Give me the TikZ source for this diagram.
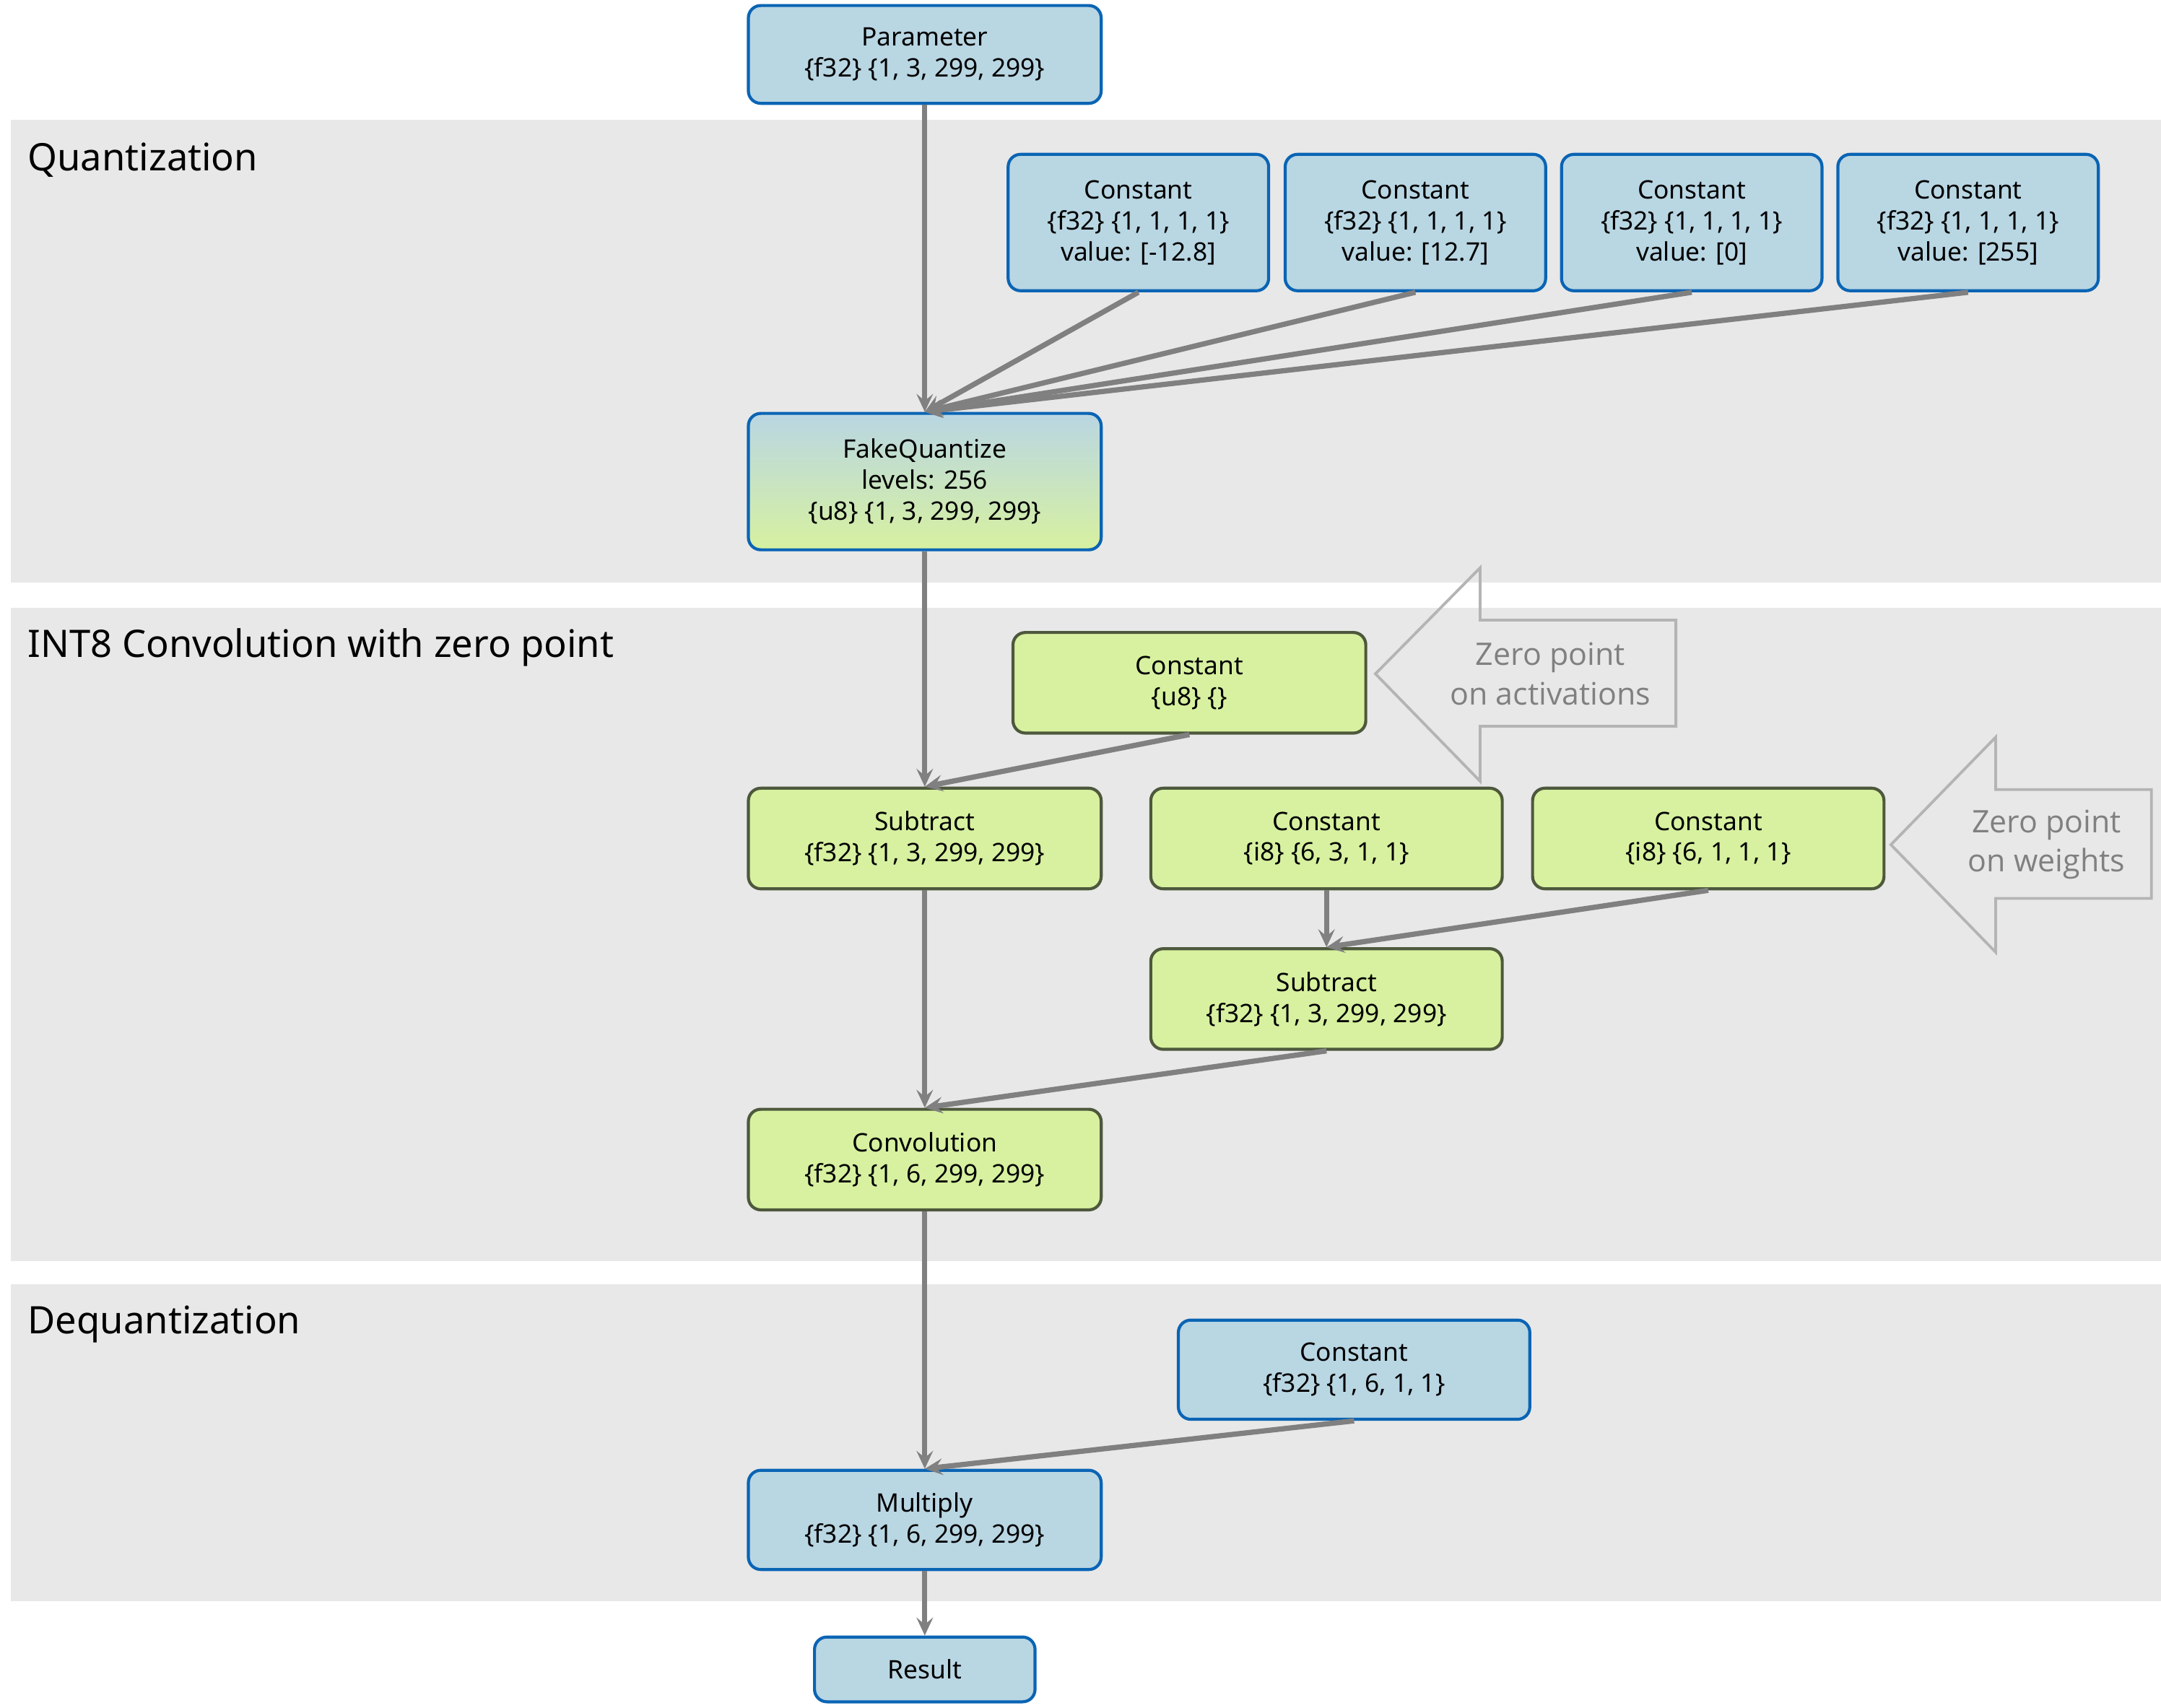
\documentclass[tikz,border=0pt]{standalone}
\usepackage{fontspec}
\setmainfont{Noto Sans}
\newfontfamily\calloutfont{Open Sans}
\usetikzlibrary{arrows.meta}
\definecolor{bandgrey}{RGB}{232,232,232}
\definecolor{bluefill}{RGB}{185,214,227}
\definecolor{blueline}{RGB}{10,100,180}
\definecolor{greenfill}{RGB}{215,241,160}
\definecolor{greenline}{RGB}{78,88,60}
\definecolor{wire}{RGB}{128,128,128}
\definecolor{callline}{RGB}{180,180,180}
\definecolor{calltext}{RGB}{128,128,128}
\tikzset{
  opbox/.style={rectangle, rounded corners=9pt, line width=2.2pt, align=center,
    inner sep=0pt, font=\fontsize{18.5}{22.5}\selectfont, text=black},
  bluebox/.style={opbox, fill=bluefill, draw=blueline},
  greenbox/.style={opbox, fill=greenfill, draw=greenline},
  gradbox/.style={opbox, top color=bluefill, bottom color=greenfill, middle color=bluefill!50!greenfill, draw=blueline},
  wide2/.style={minimum width=256pt, minimum height=73pt},
  wide3/.style={minimum width=256pt, minimum height=99pt},
  const3/.style={minimum width=189pt, minimum height=99pt},
  wire/.style={draw=wire, line width=3.8pt, -{Stealth[length=13pt,width=12pt,inset=5pt]}},
  band/.style={fill=bandgrey, draw=none},
  bandtitle/.style={anchor=west, font=\fontsize{27.5}{32}\selectfont, text=black, inner sep=0pt},
  callout/.style={draw=callline, line width=2pt, line join=miter},
  calltxt/.style={align=center, font=\calloutfont\fontsize{22.5}{28.5}\selectfont, text=calltext, inner sep=0pt}
}
\begin{document}
\begin{tikzpicture}[x=1pt,y=-1pt]
\useasboundingbox[fill=white] (0,0) rectangle (1568,1239);
% bands
\fill[band] (8,87) rectangle (1568,423);
\fill[band] (8,441) rectangle (1568,915);
\fill[band] (8,932) rectangle (1568,1162);
\node[bandtitle] (tq) at (20,116) {Quantization};
\node[bandtitle] (tc) at (20,470) {INT8 Convolution with zero point};
\node[bandtitle] (td) at (20,961) {Dequantization};
% callouts
\draw[callout] (998,489) -- (1074,412) -- (1074,450) -- (1216,450) -- (1216,527) -- (1074,527) -- (1074,567) -- cycle;
\node[calltxt] (za) at (1125,489) {Zero point\\on activations};
\draw[callout] (1372,613) -- (1448,535) -- (1448,573) -- (1561,573) -- (1561,652) -- (1448,652) -- (1448,691) -- cycle;
\node[calltxt] (zw) at (1485,613) {Zero point\\on weights};
% nodes
\node[bluebox, wide2, minimum height=71pt] (param) at (671,39.5) {Parameter\\\{f32\} \{1, 3, 299, 299\}};
\node[bluebox, const3] (c1) at (826,161.5) {Constant\\\{f32\} \{1, 1, 1, 1\}\\value: [-12.8]};
\node[bluebox, const3] (c2) at (1027,161.5) {Constant\\\{f32\} \{1, 1, 1, 1\}\\value: [12.7]};
\node[bluebox, const3] (c3) at (1227.5,161.5) {Constant\\\{f32\} \{1, 1, 1, 1\}\\value: [0]};
\node[bluebox, const3] (c4) at (1428,161.5) {Constant\\\{f32\} \{1, 1, 1, 1\}\\value: [255]};
\node[gradbox, wide3] (fq) at (671,349.5) {FakeQuantize\\levels: 256\\\{u8\} \{1, 3, 299, 299\}};
\node[greenbox, wide2] (cu8) at (863,495.5) {Constant\\\{u8\} \{\}};
\node[greenbox, wide2] (sub1) at (671,608.5) {Subtract\\\{f32\} \{1, 3, 299, 299\}};
\node[greenbox, wide2, minimum width=255pt] (ci8a) at (962.5,608.5) {Constant\\\{i8\} \{6, 3, 1, 1\}};
\node[greenbox, wide2, minimum width=255pt] (ci8b) at (1239.5,608.5) {Constant\\\{i8\} \{6, 1, 1, 1\}};
\node[greenbox, wide2, minimum width=255pt] (sub2) at (962.5,725) {Subtract\\\{f32\} \{1, 3, 299, 299\}};
\node[greenbox, wide2] (conv) at (671,841.5) {Convolution\\\{f32\} \{1, 6, 299, 299\}};
\node[bluebox, wide2, minimum width=255pt, minimum height=72pt] (cf32) at (982.5,994) {Constant\\\{f32\} \{1, 6, 1, 1\}};
\node[bluebox, wide2, minimum height=72pt] (mult) at (671,1103) {Multiply\\\{f32\} \{1, 6, 299, 299\}};
\node[bluebox, minimum width=160pt, minimum height=47pt] (res) at (671,1211.5) {Result};
% connectors
\draw[wire] (param.south) -- (fq.north);
\draw[wire] (c1.south) -- (fq.north);
\draw[wire] (c2.south) -- (fq.north);
\draw[wire] (c3.south) -- (fq.north);
\draw[wire] (c4.south) -- (fq.north);
\draw[wire] (fq.south) -- (sub1.north);
\draw[wire] (cu8.south) -- (sub1.north);
\draw[wire] (sub1.south) -- (conv.north);
\draw[wire] (ci8a.south) -- (sub2.north);
\draw[wire] (ci8b.south) -- (sub2.north);
\draw[wire] (sub2.south) -- (conv.north);
\draw[wire] (conv.south) -- (mult.north);
\draw[wire] (cf32.south) -- (mult.north);
\draw[wire] (mult.south) -- (res.north);
\end{tikzpicture}
\end{document}
